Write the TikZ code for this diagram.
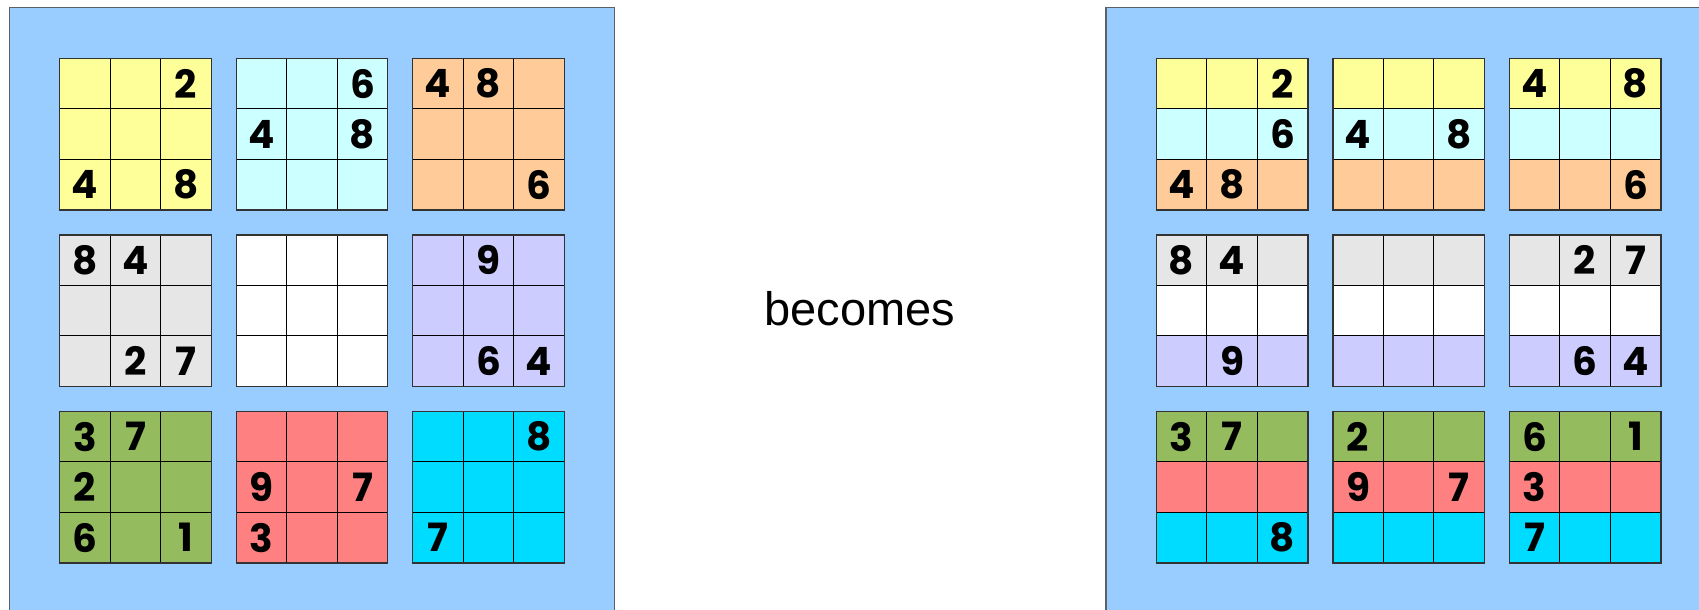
\documentclass[tikz,border=0pt]{standalone}
\usepackage{fontspec}
\setmainfont{Liberation Sans}
\newfontfamily\digitfont{Poppins}
\definecolor{panelblue}{HTML}{99CCFF}
\definecolor{panelline}{HTML}{5A6068}
\definecolor{cyel}{HTML}{FFFF99}
\definecolor{clcy}{HTML}{CCFFFF}
\definecolor{cora}{HTML}{FFCC99}
\definecolor{cgry}{HTML}{E6E6E6}
\definecolor{cwht}{HTML}{FFFFFF}
\definecolor{clav}{HTML}{CCCCFF}
\definecolor{cgrn}{HTML}{94BC5E}
\definecolor{cred}{HTML}{FF8080}
\definecolor{ccyn}{HTML}{00DCFF}
\def\pxL{59.7}
\def\pxR{1156.3}
\tikzset{
  cellbox/.style={draw=black, line width=0.9pt, minimum size=50.5pt, inner sep=0pt, outer sep=0pt,
    font=\digitfont\bfseries\fontsize{39}{39}\selectfont},
  panelbox/.style={fill=panelblue, draw=panelline, line width=1.6pt},
  blockframe/.style={draw=black!80, line width=1.4pt},
  wordtext/.style={font=\fontsize{47}{47}\selectfont, anchor=base}
}
% #1 panel L/R, #2 block row, #3 block col, #4 row in block, #5 colour, #6-#8 digits
\newcommand\brow[8]{%
  \foreach \j/\d in {0/{#6},1/{#7},2/{#8}}{%
    \node[cellbox, fill=#5] (c#1#2#3#4\j) at
      ({\csname px#1\endcsname+#3*176.5+(\j+0.5)*50.5},{58.3+#2*176.5+#4*50.5+25.25}) {\d};
  }%
  \ifnum#4=2
    \draw[blockframe] (c#1#2#300.north west) rectangle (c#1#2#322.south east);
  \fi
}
\begin{document}
\begin{tikzpicture}[x=1pt, y=-1pt]
\useasboundingbox (0,0) rectangle (1699,610);
\begin{scope}
\clip (0,0) rectangle (1699,610);
\draw[panelbox] (9.3,7.7) rectangle (614.3,640);
\draw[panelbox] (1105.7,7.7) rectangle (1730,640);

% left panel
\brow{L}{0}{0}{0}{cyel}{}{}{2}
\brow{L}{0}{0}{1}{cyel}{}{}{}
\brow{L}{0}{0}{2}{cyel}{4}{}{8}
\brow{L}{0}{1}{0}{clcy}{}{}{6}
\brow{L}{0}{1}{1}{clcy}{4}{}{8}
\brow{L}{0}{1}{2}{clcy}{}{}{}
\brow{L}{0}{2}{0}{cora}{4}{8}{}
\brow{L}{0}{2}{1}{cora}{}{}{}
\brow{L}{0}{2}{2}{cora}{}{}{6}
\brow{L}{1}{0}{0}{cgry}{8}{4}{}
\brow{L}{1}{0}{1}{cgry}{}{}{}
\brow{L}{1}{0}{2}{cgry}{}{2}{7}
\brow{L}{1}{1}{0}{cwht}{}{}{}
\brow{L}{1}{1}{1}{cwht}{}{}{}
\brow{L}{1}{1}{2}{cwht}{}{}{}
\brow{L}{1}{2}{0}{clav}{}{9}{}
\brow{L}{1}{2}{1}{clav}{}{}{}
\brow{L}{1}{2}{2}{clav}{}{6}{4}
\brow{L}{2}{0}{0}{cgrn}{3}{7}{}
\brow{L}{2}{0}{1}{cgrn}{2}{}{}
\brow{L}{2}{0}{2}{cgrn}{6}{}{1}
\brow{L}{2}{1}{0}{cred}{}{}{}
\brow{L}{2}{1}{1}{cred}{9}{}{7}
\brow{L}{2}{1}{2}{cred}{3}{}{}
\brow{L}{2}{2}{0}{ccyn}{}{}{8}
\brow{L}{2}{2}{1}{ccyn}{}{}{}
\brow{L}{2}{2}{2}{ccyn}{7}{}{}

% right panel
\brow{R}{0}{0}{0}{cyel}{}{}{2}
\brow{R}{0}{0}{1}{clcy}{}{}{6}
\brow{R}{0}{0}{2}{cora}{4}{8}{}
\brow{R}{0}{1}{0}{cyel}{}{}{}
\brow{R}{0}{1}{1}{clcy}{4}{}{8}
\brow{R}{0}{1}{2}{cora}{}{}{}
\brow{R}{0}{2}{0}{cyel}{4}{}{8}
\brow{R}{0}{2}{1}{clcy}{}{}{}
\brow{R}{0}{2}{2}{cora}{}{}{6}
\brow{R}{1}{0}{0}{cgry}{8}{4}{}
\brow{R}{1}{0}{1}{cwht}{}{}{}
\brow{R}{1}{0}{2}{clav}{}{9}{}
\brow{R}{1}{1}{0}{cgry}{}{}{}
\brow{R}{1}{1}{1}{cwht}{}{}{}
\brow{R}{1}{1}{2}{clav}{}{}{}
\brow{R}{1}{2}{0}{cgry}{}{2}{7}
\brow{R}{1}{2}{1}{cwht}{}{}{}
\brow{R}{1}{2}{2}{clav}{}{6}{4}
\brow{R}{2}{0}{0}{cgrn}{3}{7}{}
\brow{R}{2}{0}{1}{cred}{}{}{}
\brow{R}{2}{0}{2}{ccyn}{}{}{8}
\brow{R}{2}{1}{0}{cgrn}{2}{}{}
\brow{R}{2}{1}{1}{cred}{9}{}{7}
\brow{R}{2}{1}{2}{ccyn}{}{}{}
\brow{R}{2}{2}{0}{cgrn}{6}{}{1}
\brow{R}{2}{2}{1}{cred}{3}{}{}
\brow{R}{2}{2}{2}{ccyn}{7}{}{}
\end{scope}

\node[wordtext] (becomes) at (860,325) {becomes};
\end{tikzpicture}
\end{document}
